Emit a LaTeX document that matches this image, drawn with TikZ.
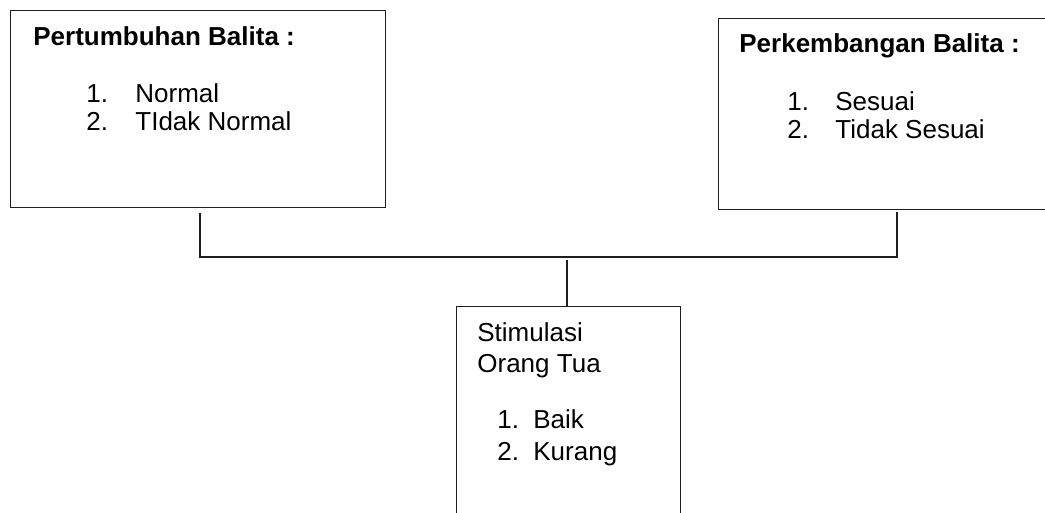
\documentclass[tikz,border=0pt]{standalone}
\usepackage{fontspec}
\setmainfont{Liberation Sans}
\usepackage{tikz}
\usetikzlibrary{positioning}
\definecolor{ink}{HTML}{1E1E1E}

\begin{document}
\begin{tikzpicture}[x=0.5pt, y=-0.5pt,
      box/.style={rectangle, draw=ink, line width=0.7pt, inner sep=0pt,
        anchor=north west},
      title/.style={anchor=base west, inner sep=0pt, font=\fontsize{13}{15}\selectfont\bfseries},
      txt/.style={anchor=base west, inner sep=0pt, font=\fontsize{13}{15}\selectfont},
      link/.style={draw=ink, line width=0.7pt}]

    \useasboundingbox (0,0) rectangle (1045,513);

    % boxes
    \node[box, minimum width=187.5pt, minimum height=98.5pt] (growth) at (10,10) {};
    \node[box, minimum width=170pt, minimum height=95.5pt] (develop) at (718,18) {};
    \node[box, minimum width=112pt, minimum height=110pt] (stim) at (456,306) {};

    % pertumbuhan
    \node[title] (growthT) at (33,46) {Pertumbuhan Balita :};
    \node[txt] (g1n) at (86,103) {1.};
    \node[txt] (g1) at (135,103) {Normal};
    \node[txt] (g2n) at (86,131) {2.};
    \node[txt] (g2) at (135,131) {TIdak Normal};

    % perkembangan
    \node[title] (developT) at (739,53) {Perkembangan Balita :};
    \node[txt] (d1n) at (787,111) {1.};
    \node[txt] (d1) at (835,111) {Sesuai};
    \node[txt] (d2n) at (787,139) {2.};
    \node[txt] (d2) at (835,139) {Tidak Sesuai};

    % stimulasi
    \node[txt] (stimT) at (477,342) {Stimulasi};
    \node[txt] (stimT2) at (477,372) {Orang Tua};
    \node[txt] (s1n) at (497,429) {1.};
    \node[txt] (s1) at (533,429) {Baik};
    \node[txt] (s2n) at (497,460) {2.};
    \node[txt] (s2) at (533,460) {Kurang};

    % connectors
    \coordinate (jl) at (200,257);
    \coordinate (jr) at (897,257);
    \coordinate (jm) at (567,257);

    \draw[link, shorten <=2.5pt, shorten >=1pt]
      (growth.south -| jl) -- (jl) -- (jr) -- (develop.south -| jr);
    \draw[link, shorten <=1.5pt] (jm) -- (stim.north -| jm);
  \end{tikzpicture}
\end{document}
